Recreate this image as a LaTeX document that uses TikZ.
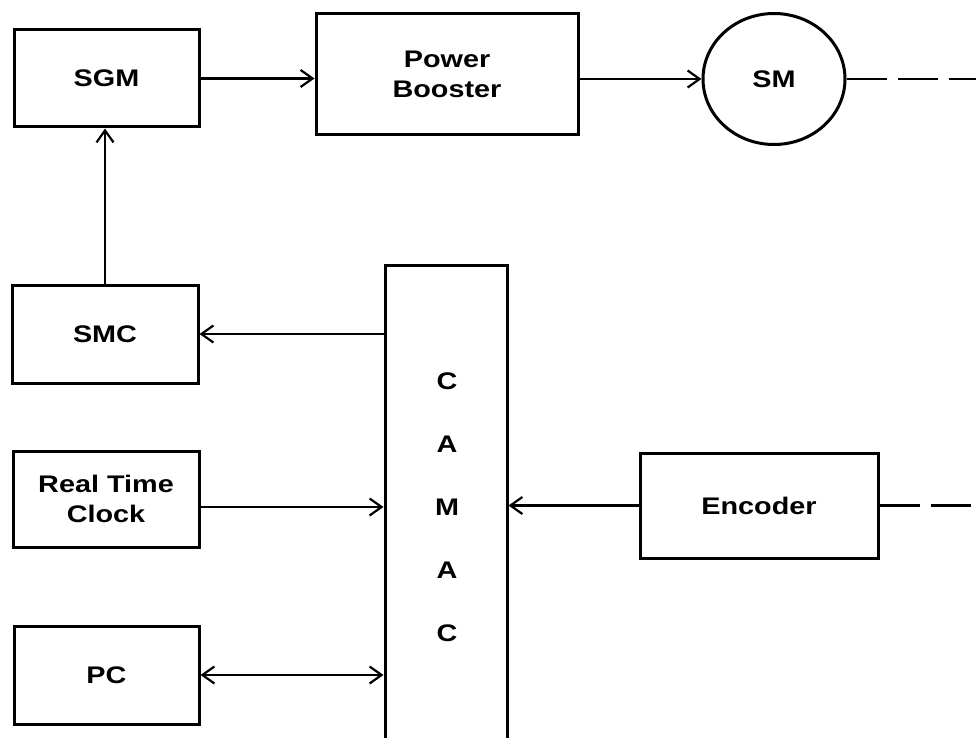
\documentclass[tikz,border=0pt]{standalone}
\usepackage{fontspec}
\setmainfont{Liberation Sans}[FakeStretch=1.2]
\usetikzlibrary{arrows.meta,shapes.geometric}
\begin{document}
\begin{tikzpicture}[x=1pt,y=-1pt,
  box/.style={draw,line width=3pt,rectangle,inner sep=0pt,align=center,
    font=\fontsize{24}{30}\selectfont\bfseries},
  lbl/.style={inner sep=0pt,align=center,font=\fontsize{24}{63}\selectfont\bfseries},
  arr/.style={line width=2.2pt,-{Straight Barb[length=12pt,width=17pt]}},
  darr/.style={line width=2.2pt,{Straight Barb[length=12pt,width=17pt]}-{Straight Barb[length=12pt,width=17pt]}},
  dashline/.style={line width=2.2pt,dash pattern=on 40pt off 11pt}]
\useasboundingbox (0,0) rectangle (976,738);
\node[box,minimum width=185pt,minimum height=97pt] (sgm) at (106.5,78.5) {SGM};
\node[box,minimum width=262pt,minimum height=121pt] (pb) at (447,74.5) {Power\\Booster};
\node[box,ellipse,minimum width=142pt,minimum height=131pt] (sm) at (774,79) {SM};
\coordinate (smend) at (976,79);
\node[box,minimum width=186pt,minimum height=98pt] (smc) at (105,334) {SMC};
\node[box,minimum width=186pt,minimum height=96pt] (rtc) at (106,499) {Real Time\\Clock};
\node[box,minimum width=185pt,minimum height=98pt] (pc) at (106.5,675) {PC};
\node[box,minimum width=122pt,minimum height=505pt] (camac) at (446,517.5) {};
\node[lbl] (camaclbl) at (447,507) {C\\A\\M\\A\\C};
\node[box,minimum width=238pt,minimum height=105pt] (enc) at (759,505.5) {Encoder};
\coordinate (encend) at (976,505.5);

\draw[arr] (sgm.east) -- (pb.west |- sgm.east);
\draw[arr] (pb.east |- sm.west) -- (sm.west);
\draw[dashline] (sm.east) -- (smend);
\draw[arr] (smc.north) -- (smc.north |- sgm.south);
\draw[arr] (camac.west |- smc.east) -- (smc.east);
\draw[arr] (rtc.east |- camaclbl) -- (camac.west |- camaclbl);
\draw[darr] (pc.east) -- (camac.west |- pc.east);
\draw[arr] (enc.west) -- (camac.east |- enc.west);
\draw[dashline] (enc.east) -- (encend);
\end{tikzpicture}
\end{document}
